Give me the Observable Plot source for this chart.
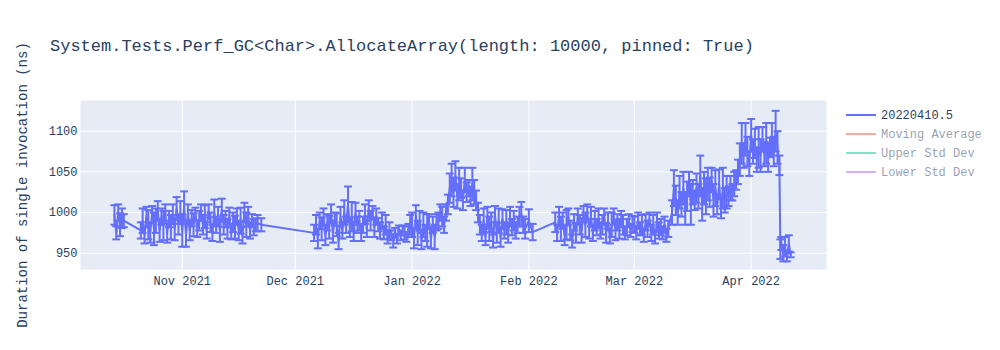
<!DOCTYPE html>
<html><head><meta charset="utf-8">
<script src="https://cdn.jsdelivr.net/npm/d3@7"></script>
<script src="https://cdn.jsdelivr.net/npm/@observablehq/plot@0.6"></script>
<style>body{margin:0;background:#fff}</style>
</head><body><div id="chart"></div>
<script>
const titleText = "System.Tests.Perf_GC<Char>.AllocateArray(length: 10000, pinned: True)";
const yLabel = "Duration of single invocation (ns)";
const yTicks = [950, 1000, 1050, 1100];
const xTicks = ["2021-11-01", "2021-12-01", "2022-01-01", "2022-02-01", "2022-03-01", "2022-04-01"];
const legendLabels = ["20220410.5", "Moving Average", "Upper Std Dev", "Lower Std Dev"];
const legendColors = ["#636efa", "#EF553B", "#00cc96", "#ab63fa"];
const legendActive = [true, false, false, false];

const runDates = [
  // Oct 14-16
  "2021-10-14 00","2021-10-14 12","2021-10-15 00","2021-10-15 12","2021-10-16 00","2021-10-16 12",
  // Oct 21-31
  "2021-10-21 00","2021-10-21 12","2021-10-22 00","2021-10-22 12","2021-10-23 00","2021-10-23 12",
  "2021-10-24 00","2021-10-24 12","2021-10-25 00","2021-10-25 12","2021-10-26 00","2021-10-26 12",
  "2021-10-27 00","2021-10-27 12","2021-10-28 00","2021-10-28 12","2021-10-29 00","2021-10-29 12",
  "2021-10-30 00","2021-10-30 12","2021-10-31 00","2021-10-31 12",
  // Nov 1-22
  "2021-11-01 00","2021-11-01 12","2021-11-02 00","2021-11-02 12","2021-11-03 00","2021-11-03 12",
  "2021-11-04 00","2021-11-04 12","2021-11-05 00","2021-11-05 12","2021-11-06 00","2021-11-06 12",
  "2021-11-07 00","2021-11-07 12","2021-11-08 00","2021-11-08 12","2021-11-09 00","2021-11-09 12",
  "2021-11-10 00","2021-11-10 12","2021-11-11 00","2021-11-11 12","2021-11-12 00","2021-11-12 12",
  "2021-11-13 00","2021-11-13 12","2021-11-14 00","2021-11-14 12","2021-11-15 00","2021-11-15 12",
  "2021-11-16 00","2021-11-16 12","2021-11-17 00","2021-11-17 12","2021-11-18 00","2021-11-18 12",
  "2021-11-19 00","2021-11-19 12","2021-11-20 00","2021-11-20 12","2021-11-21 00","2021-11-22 00",
  // Dec 6-31
  "2021-12-06 00","2021-12-06 12","2021-12-07 00","2021-12-07 12","2021-12-08 00","2021-12-08 12",
  "2021-12-09 00","2021-12-09 12","2021-12-10 00","2021-12-10 12","2021-12-11 00","2021-12-11 12",
  "2021-12-12 00","2021-12-12 12","2021-12-13 00","2021-12-13 12","2021-12-14 00","2021-12-14 12",
  "2021-12-15 00","2021-12-15 12","2021-12-16 00","2021-12-16 12","2021-12-17 00","2021-12-17 12",
  "2021-12-18 00","2021-12-18 12","2021-12-19 00","2021-12-19 12","2021-12-20 00","2021-12-20 12",
  "2021-12-21 00","2021-12-21 12","2021-12-22 00","2021-12-22 12","2021-12-23 00","2021-12-23 12",
  "2021-12-24 00","2021-12-24 12","2021-12-25 00","2021-12-25 12","2021-12-26 00","2021-12-26 12",
  "2021-12-27 00","2021-12-27 12","2021-12-28 00","2021-12-28 12","2021-12-29 00","2021-12-29 12",
  "2021-12-30 00","2021-12-30 12","2021-12-31 00","2021-12-31 12",
  // Jan 1 - Feb 2
  "2022-01-01 00","2022-01-01 12","2022-01-02 00","2022-01-02 12","2022-01-03 00","2022-01-03 12",
  "2022-01-04 00","2022-01-04 12","2022-01-05 00","2022-01-05 12","2022-01-06 00","2022-01-06 12",
  "2022-01-07 00","2022-01-07 12","2022-01-08 00","2022-01-08 12","2022-01-09 00","2022-01-09 12",
  "2022-01-10 00","2022-01-10 12","2022-01-11 00","2022-01-11 12","2022-01-12 00","2022-01-12 12",
  "2022-01-13 00","2022-01-13 12","2022-01-14 00","2022-01-14 12","2022-01-15 00","2022-01-15 12",
  "2022-01-16 00","2022-01-16 12","2022-01-17 00","2022-01-17 12","2022-01-18 00","2022-01-18 12",
  "2022-01-19 00","2022-01-19 12","2022-01-20 00","2022-01-20 12","2022-01-21 00","2022-01-21 12",
  "2022-01-22 00","2022-01-22 12","2022-01-23 00","2022-01-23 12","2022-01-24 00","2022-01-24 12",
  "2022-01-25 00","2022-01-25 12","2022-01-26 00","2022-01-26 12","2022-01-27 00","2022-01-27 12",
  "2022-01-28 00","2022-01-28 12","2022-01-29 00","2022-01-29 12","2022-01-30 00","2022-01-30 12",
  "2022-01-31 00","2022-02-01 00","2022-02-02 00",
  // Feb 8 - Mar 10
  "2022-02-08 00","2022-02-08 12","2022-02-09 00","2022-02-09 12","2022-02-10 00","2022-02-10 12",
  "2022-02-11 00","2022-02-11 12","2022-02-12 00","2022-02-12 12","2022-02-13 00","2022-02-13 12",
  "2022-02-14 00","2022-02-14 12","2022-02-15 00","2022-02-15 12","2022-02-16 00","2022-02-16 12",
  "2022-02-17 00","2022-02-17 12","2022-02-18 00","2022-02-18 12","2022-02-19 00","2022-02-19 12",
  "2022-02-20 00","2022-02-20 12","2022-02-21 00","2022-02-21 12","2022-02-22 00","2022-02-22 12",
  "2022-02-23 00","2022-02-23 12","2022-02-24 00","2022-02-24 12","2022-02-25 00","2022-02-25 12",
  "2022-02-26 00","2022-02-26 12","2022-02-27 00","2022-02-27 12","2022-02-28 00","2022-02-28 12",
  "2022-03-01 00","2022-03-01 12","2022-03-02 00","2022-03-02 12","2022-03-03 00","2022-03-03 12",
  "2022-03-04 00","2022-03-04 12","2022-03-05 00","2022-03-05 12","2022-03-06 00","2022-03-06 12",
  "2022-03-07 00","2022-03-07 12","2022-03-08 00","2022-03-08 12","2022-03-09 00","2022-03-09 12",
  "2022-03-10 00",
  // Mar 11 - 28
  "2022-03-11 00","2022-03-11 12","2022-03-12 00","2022-03-12 12","2022-03-13 00","2022-03-13 12",
  "2022-03-14 00","2022-03-14 12","2022-03-15 00","2022-03-15 12","2022-03-16 00","2022-03-16 12",
  "2022-03-17 00","2022-03-17 12","2022-03-18 00","2022-03-18 12","2022-03-19 00","2022-03-19 12",
  "2022-03-20 00","2022-03-20 12","2022-03-21 00","2022-03-21 12","2022-03-22 00","2022-03-22 12",
  "2022-03-23 00","2022-03-23 12","2022-03-24 00","2022-03-24 12","2022-03-25 00","2022-03-25 12",
  "2022-03-26 00","2022-03-26 12","2022-03-27 00","2022-03-27 12","2022-03-28 00","2022-03-28 12",
  // Mar 29 - Apr 11
  "2022-03-29 00","2022-03-29 12","2022-03-30 00","2022-03-30 12","2022-03-31 00","2022-03-31 12",
  "2022-04-01 00","2022-04-01 12","2022-04-02 00","2022-04-02 12","2022-04-03 00","2022-04-03 12",
  "2022-04-04 00","2022-04-04 12","2022-04-05 00","2022-04-05 12","2022-04-06 00","2022-04-06 12",
  "2022-04-07 00","2022-04-07 12","2022-04-08 00","2022-04-08 12",
  "2022-04-08 18","2022-04-09 00","2022-04-09 12","2022-04-10 00","2022-04-10 12","2022-04-11 00","2022-04-11 12"
];

const runMeans = [
  997,975,1000,985,993,990,
  978,990,972,995,985,975,
  998,980,990,1002,978,995,
  984,1000,975,992,982,998,
  980,1005,985,1000,
  978,1008,972,1000,978,993,
  985,998,980,990,1000,985,
  995,978,1002,988,975,1000,
  985,995,978,1003,985,992,
  980,996,975,988,982,995,
  978,990,972,1000,985,995,
  978,990,982,985,987,985,
  975,985,968,990,980,995,
  972,988,982,1000,975,992,
  985,965,995,978,1000,985,
  1010,982,995,975,1000,985,
  990,975,985,998,980,1005,
  990,1000,982,995,985,978,
  990,975,985,970,978,972,
  965,975,968,978,972,978,
  975,970,978,985,
  985,968,995,975,990,965,
  985,975,978,990,968,985,
  970,988,990,1000,995,985,
  1000,1010,1030,1040,1025,1045,
  1020,1035,1030,1015,1040,1025,
  1030,1020,1035,1025,1015,1000,
  985,975,990,970,995,980,
  988,965,998,975,990,970,
  992,978,988,975,995,982,
  990,978,985,995,998,985,
  980,990,976,
  988,975,995,980,990,972,
  985,995,978,965,988,975,
  995,985,978,998,985,1000,
  980,995,975,990,982,993,
  978,985,995,975,990,970,
  985,995,978,988,980,992,
  985,975,982,990,978,986,
  985,975,990,980,985,972,
  988,980,992,975,985,970,
  988,978,982,975,985,972,
  980,
  1000,1030,1015,1000,1025,1010,
  1030,1005,1020,1035,1010,1025,
  1015,1030,1020,1045,1010,1030,
  1020,1035,1025,1040,1015,1030,
  1010,1035,1005,1030,1015,1025,
  1020,1030,1025,1035,1040,1050,
  1065,1085,1070,1090,1075,1060,
  1095,1075,1085,1065,1080,1070,
  1090,1072,1085,1068,1080,1090,
  1075,1100,1080,1058,
  955,962,950,958,945,962,948
];

const runErrors = [
  12,8,10,14,12,8,
  10,15,10,12,18,12,
  10,20,15,12,14,10,
  18,10,12,10,15,12,
  14,14,12,14,
  20,18,14,10,12,10,
  14,8,10,12,10,12,
  14,10,8,12,10,16,
  10,12,14,14,12,10,
  12,10,8,12,14,10,
  12,16,10,12,15,12,
  10,8,10,8,10,8,
  10,12,12,10,14,10,
  12,10,14,10,12,8,
  14,10,12,10,15,10,
  22,12,18,10,12,10,
  12,10,10,12,10,10,
  12,8,12,10,8,10,
  10,8,12,8,10,6,
  8,6,6,6,6,6,
  8,6,8,12,
  15,12,14,15,12,10,
  15,10,20,8,12,10,
  15,10,10,10,12,10,
  10,12,18,20,18,18,
  15,20,12,12,15,12,
  10,12,20,15,12,12,
  12,10,15,10,12,15,
  12,8,10,12,15,12,
  12,10,15,12,12,10,
  12,10,10,12,15,10,
  12,14,10,
  12,10,12,15,10,12,
  18,10,12,8,10,12,
  10,12,15,10,15,10,
  12,12,10,12,10,12,
  10,12,10,12,10,8,
  15,10,12,10,12,10,
  12,8,10,8,8,10,
  10,8,10,8,12,8,
  10,10,8,10,12,8,
  12,10,10,8,10,8,
  10,
  15,22,18,15,20,15,
  20,20,18,15,25,15,
  12,18,15,25,20,20,
  22,20,18,15,20,22,
  12,18,12,25,15,20,
  12,15,10,15,12,15,
  20,25,15,20,18,15,
  20,15,18,15,25,20,
  15,15,25,18,12,20,
  18,25,20,12,
  12,8,10,12,5,10,3
];

if (runDates.length !== runMeans.length || runDates.length !== runErrors.length) {
  console.error("length mismatch", runDates.length, runMeans.length, runErrors.length);
}

const parse = d3.utcParse("%Y-%m-%d %H");
const data = runDates.map((d, i) => ({date: parse(d), mean: runMeans[i], err: runErrors[i]}));
const capHalf = 1.05 * 864e5;
const xTickDates = xTicks.map(d => new Date(d + "T00:00Z"));
const blue = "#636efa";
const textColor = "#2a3f5f";
const mono = "'Liberation Mono', 'Courier New', monospace";

const chart = Plot.plot({
  width: 1000,
  height: 350,
  marginTop: 100,
  marginBottom: 81,
  marginLeft: 80,
  marginRight: 174,
  style: {fontFamily: mono, fontSize: "12px", color: textColor, background: "#fff", overflow: "visible"},
  x: {type: "utc", domain: [new Date("2021-10-05T00:00Z"), new Date("2022-04-21T00:00Z")],
      ticks: xTickDates, tickFormat: d3.utcFormat("%b %Y"), tickSize: 0, tickPadding: 7, label: null},
  y: {domain: [930, 1137.7], ticks: yTicks, tickFormat: d3.format("d"), tickSize: 0, tickPadding: 3, label: null},
  marks: [
    Plot.frame({fill: "#e5ecf6", stroke: "none"}),
    Plot.ruleX(xTickDates, {stroke: "#fff", strokeWidth: 1}),
    Plot.ruleY(yTicks, {stroke: "#fff", strokeWidth: 1}),
    Plot.ruleX(data, {x: "date", y1: d => d.mean - d.err, y2: d => d.mean + d.err, stroke: blue, strokeWidth: 2}),
    Plot.link(data, {x1: d => new Date(+d.date - capHalf), x2: d => new Date(+d.date + capHalf),
      y1: d => d.mean + d.err, y2: d => d.mean + d.err, stroke: blue, strokeWidth: 2}),
    Plot.link(data, {x1: d => new Date(+d.date - capHalf), x2: d => new Date(+d.date + capHalf),
      y1: d => d.mean - d.err, y2: d => d.mean - d.err, stroke: blue, strokeWidth: 2}),
    Plot.line(data, {x: "date", y: "mean", stroke: blue, strokeWidth: 2})
  ]
});

const svg = d3.select(chart);
svg.append("text").attr("x", 50).attr("y", 51)
  .attr("text-anchor", "start")
  .attr("font-family", mono).attr("font-size", 17).attr("fill", textColor)
  .text(titleText);
svg.append("text").attr("transform", "translate(27,185) rotate(-90)")
  .attr("text-anchor", "middle")
  .attr("font-family", mono).attr("font-size", 14).attr("fill", textColor)
  .text(yLabel);
const lg = svg.append("g").attr("text-anchor", "start");
legendLabels.forEach((lab, i) => {
  const y = 115 + i * 19;
  const op = legendActive[i] ? 1 : 0.5;
  lg.append("line").attr("x1", 846).attr("x2", 876).attr("y1", y).attr("y2", y)
    .attr("stroke", legendColors[i]).attr("stroke-width", 2).attr("stroke-opacity", op);
  lg.append("text").attr("x", 881).attr("y", y).attr("dy", "0.35em")
    .attr("text-anchor", "start")
    .attr("font-family", mono).attr("font-size", 12).attr("fill", textColor).attr("fill-opacity", op)
    .text(lab);
});

document.getElementById("chart").appendChild(chart);
</script>
</body></html>
